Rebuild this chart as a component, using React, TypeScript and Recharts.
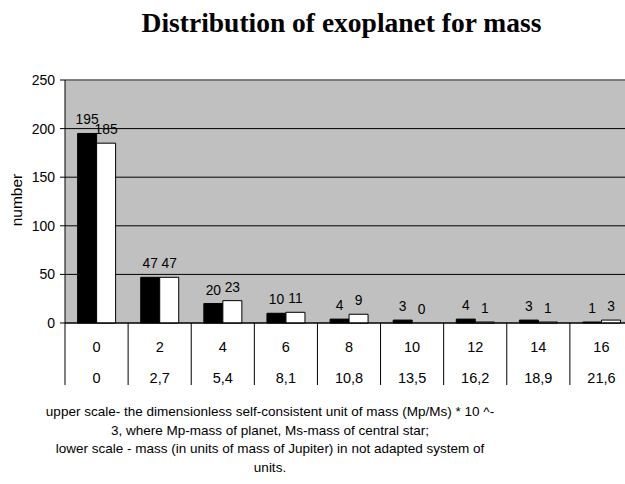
import React from 'react';
import { BarChart, Bar, XAxis, YAxis, CartesianGrid, LabelList, ReferenceLine } from 'recharts';

const upperScale = ['0', '2', '4', '6', '8', '10', '12', '14', '16'];
const lowerScale = ['0', '2,7', '5,4', '8,1', '10,8', '13,5', '16,2', '18,9', '21,6'];
const seriesBlack = [195, 47, 20, 10, 4, 3, 4, 3, 1];
const seriesWhite = [185, 47, 23, 11, 9, 0, 1, 1, 3];
const yTicks = [0, 50, 100, 150, 200, 250];

const title = 'Distribution of exoplanet for mass';
const yLabel = 'number';
const captionLines = [
  'upper scale- the dimensionless self-consistent unit of mass (Mp/Ms) * 10 ^-',
  '3, where Mp-mass of planet, Ms-mass of central star;',
  'lower scale - mass (in units of mass of Jupiter) in not adapted system of',
  'units.',
];

const data = upperScale.map((c, i) => ({
  cat: c,
  lower: lowerScale[i],
  black: seriesBlack[i],
  white: seriesWhite[i],
}));

const FONT = '"Liberation Sans", Arial, sans-serif';

const TableTick = (props: any) => {
  const { x, y, payload, index } = props;
  const off = payload && typeof payload.offset === 'number' ? payload.offset : 31.5;
  return (
    <g>
      <line x1={x - off} x2={x - off} y1={y} y2={y + 62} stroke="#000" strokeWidth={1} />
      <text x={x} y={y + 29} textAnchor="middle" fontSize={14.5} fill="#000" fontFamily={FONT}>
        {payload.value}
      </text>
      <text x={x} y={y + 60} textAnchor="middle" fontSize={14.5} fill="#000" fontFamily={FONT}>
        {lowerScale[index]}
      </text>
    </g>
  );
};

const labelText = (x: number, y: number, v: any, key?: string) => (
  <text key={key} x={x} y={y} textAnchor="middle" fontSize={13.8} fill="#000" fontFamily={FONT}>
    {String(v)}
  </text>
);

const BarLabel = (props: any) => {
  const { x, y, width, value } = props;
  if (x == null || y == null) return null;
  return labelText(Number(x) + Number(width) / 2, Number(y) - 9, value);
};

// Black-bar label; also labels a zero-valued white bar (which Recharts does not render)
const BlackBarLabel = (props: any) => {
  const { x, y, width, height, value, index } = props;
  if (x == null || y == null) return null;
  const nx = Number(x);
  const ny = Number(y);
  const w = Number(width);
  const baseY = ny + Number(height);
  const wv = index != null ? seriesWhite[index] : undefined;
  return (
    <g>
      {labelText(nx + w / 2, ny - 9, value, 'b')}
      {wv === 0 ? labelText(nx + w * 1.5, baseY - 9, wv, 'w') : null}
    </g>
  );
};

export default function App() {
  return (
    <div
      style={{
        position: 'absolute',
        left: 0,
        top: 0,
        width: 625,
        height: 484,
        overflow: 'hidden',
        background: '#fff',
        fontFamily: FONT,
      }}
    >
      <div style={{ position: 'absolute', left: 0, top: 0 }}>
        <BarChart
          width={640}
          height={400}
          data={data}
          margin={{ top: 80, right: 7, left: 0, bottom: 7 }}
          barCategoryGap="20%"
          barGap={0}
        >
          <CartesianGrid vertical={false} stroke="#000" fill="#C0C0C0" />
          <ReferenceLine y={250} stroke="#808080" strokeWidth={1.5} />
          <XAxis
            dataKey="cat"
            interval={0}
            height={70}
            tickSize={0}
            tickMargin={0}
            tickLine={false}
            axisLine={{ stroke: '#000' }}
            tick={<TableTick />}
          />
          <YAxis
            domain={[0, 250]}
            ticks={yTicks}
            width={65}
            tickSize={5}
            tickMargin={5}
            axisLine={{ stroke: '#000' }}
            tickLine={{ stroke: '#000' }}
            tick={{ fill: '#000', fontSize: 14, fontFamily: FONT }}
            interval={0}
          />
          <Bar dataKey="black" fill="#000" stroke="#000" strokeWidth={1} isAnimationActive={false}>
            <LabelList dataKey="black" content={<BlackBarLabel />} />
          </Bar>
          <Bar dataKey="white" fill="#fff" stroke="#000" strokeWidth={1} isAnimationActive={false}>
            <LabelList dataKey="white" content={<BarLabel />} />
          </Bar>
        </BarChart>
      </div>
      <svg
        width={625}
        height={484}
        style={{ position: 'absolute', left: 0, top: 0, pointerEvents: 'none' }}
      >
        <text
          x={341.5}
          y={32}
          textAnchor="middle"
          fontFamily='"Liberation Serif", "Times New Roman", serif'
          fontWeight="bold"
          fontSize={27.5}
          fill="#000"
        >
          {title}
        </text>
        <text
          transform="translate(22,200) rotate(-90)"
          textAnchor="middle"
          fontFamily={FONT}
          fontSize={15.5}
          fill="#000"
        >
          {yLabel}
        </text>
        {captionLines.map((line, i) => (
          <text
            key={i}
            x={270}
            y={416 + i * 18.5}
            textAnchor="middle"
            fontFamily={FONT}
            fontSize={13.5}
            fill="#000"
          >
            {line}
          </text>
        ))}
      </svg>
    </div>
  );
}
